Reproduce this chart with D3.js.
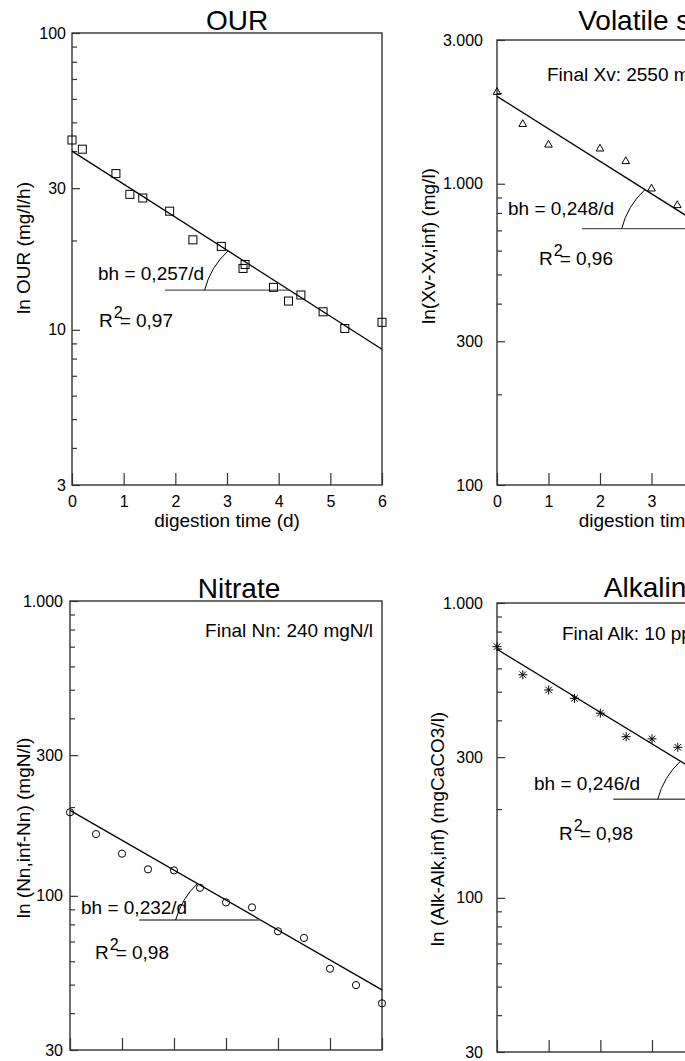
<!DOCTYPE html>
<html><head><meta charset="utf-8">
<script src="https://cdn.jsdelivr.net/npm/d3@7"></script>
<style>
body{margin:0;background:#fff;overflow:hidden}
svg{display:block}
text{font-family:"Liberation Sans",Arial,Helvetica,sans-serif;fill:#000}
</style>
</head><body>
<svg id="chart" width="685" height="1061"></svg>
<script>
// ---------------- data ----------------
const xTickValues = [0, 1, 2, 3, 4, 5, 6];

const ourDays   = [0, 0.2, 0.85, 1.12, 1.37, 1.89, 2.34, 2.89, 3.31, 3.35, 3.9, 4.19, 4.43, 4.86, 5.28, 6];
const ourValues = [43.6, 40.6, 33.6, 28.6, 27.8, 25.1, 20.1, 19.1, 16.1, 16.6, 13.9, 12.5, 13.1, 11.5, 10.1, 10.6];
const ourFit    = [[0, 40], [6, 8.6]];
const ourYTicks = [3, 10, 30, 100];
const ourYTickLabels = ["3", "10", "30", "100"];

const vsDays   = [0, 0.5, 1, 2, 2.5, 3, 3.5];
const vsValues = [2020, 1580, 1350, 1310, 1190, 965, 850];
const vsFit    = [[0, 1950], [6, 440]];
const vsYTicks = [100, 300, 1000, 3000];
const vsYTickLabels = ["100", "300", "1.000", "3.000"];

const nnDays   = [0, 0.5, 1, 1.5, 2, 2.5, 3, 3.5, 4, 4.5, 5, 5.5, 6];
const nnValues = [192, 162, 139, 123, 122, 106.5, 95, 91.4, 75.8, 72, 56.6, 49.8, 43.2];
const nnFit    = [[0, 195], [6, 48]];
const nnYTicks = [30, 100, 300, 1000];
const nnYTickLabels = ["30", "100", "300", "1.000"];

const alkDays   = [0, 0.5, 1, 1.5, 2, 2.5, 3, 3.5];
const alkValues = [711, 571, 507, 475, 423, 352, 346, 324];
const alkFit    = [[0, 697], [6, 159]];
const alkYTicks = [30, 100, 300, 1000];
const alkYTickLabels = ["30", "100", "300", "1.000"];

const titles = ["OUR", "Volatile solids", "Nitrate", "Alkalinity"];
const yTitles = ["ln OUR (mg/l/h)", "ln(Xv-Xv,inf) (mg/l)", "ln (Nn,inf-Nn) (mgN/l)", "ln (Alk-Alk,inf) (mgCaCO3/l)"];
const slopeTexts = ["bh = 0,257/d", "bh = 0,248/d", "bh = 0,232/d", "bh = 0,246/d"];
const r2Texts = ["= 0,97", "= 0,96", "= 0,98", "= 0,98"];
const finalTexts = [null, "Final Xv: 2550 mg/l", "Final Nn: 240 mgN/l", "Final Alk: 10 ppm"];
const angleLevels = [13.6, 710, 82.8, 216];     // value of horizontal reference line
const angleStarts = [1.8, 1.65, 1.33, 2.25];    // day where horizontal line starts

// ---------------- layout ----------------
const panels = [
  {i:0, days:ourDays, vals:ourValues, fit:ourFit, yt:ourYTicks, ytl:ourYTickLabels, dom:[3,100],
   x0:72, x1:382, yT:33, yB:485, marker:"square", tickPad:6, xLabels:true,
   titleX:237, titleY:30, yTitleX:23, yTitleY:248,
   slope:[98, 280], r2:[99, 327], fin:null},
  {i:1, days:vsDays, vals:vsValues, fit:vsFit, yt:vsYTicks, ytl:vsYTickLabels, dom:[100,3000],
   x0:497, x1:806, yT:40, yB:485, marker:"triangle", tickPad:14, xLabels:true,
   titleX:663, titleY:30, yTitleX:428, yTitleY:246,
   slope:[508, 215], r2:[539, 265], fin:[547, 81, "start"]},
  {i:2, days:nnDays, vals:nnValues, fit:nnFit, yt:nnYTicks, ytl:nnYTickLabels, dom:[30,1000],
   x0:70, x1:382, yT:601, yB:1050, marker:"circle", tickPad:7, xLabels:false,
   titleX:239, titleY:598, yTitleX:23, yTitleY:828,
   slope:[81, 914], r2:[95, 959], fin:[373, 637, "end"]},
  {i:3, days:alkDays, vals:alkValues, fit:alkFit, yt:alkYTicks, ytl:alkYTickLabels, dom:[30,1000],
   x0:497, x1:807, yT:603, yB:1052, marker:"asterisk", tickPad:14, xLabels:false,
   titleX:659, titleY:597, yTitleX:437, yTitleY:829,
   slope:[534, 790], r2:[559, 840], fin:[562, 640, "start"]}
];

const svg = d3.select("#chart");
const axisColor = "#333";
const W = 685;

function minorTicks(dom, majors) {
  const out = [];
  const lo = Math.floor(Math.log10(dom[0])), hi = Math.ceil(Math.log10(dom[1]));
  for (let e = lo; e <= hi; e++) {
    for (let m = 1; m <= 9; m++) {
      const v = m * Math.pow(10, e);
      if (v >= dom[0] * 0.999 && v <= dom[1] * 1.001 && !majors.some(t => Math.abs(t - v) < 1e-9 * v)) out.push(v);
    }
  }
  return out;
}

panels.forEach(p => {
  const g = svg.append("g");
  const x = d3.scaleLinear().domain([0, 6]).range([p.x0, p.x1]);
  const y = d3.scaleLog().domain(p.dom).range([p.yB, p.yT]);

  // y minor ticks
  const minorAxis = d3.axisLeft(y).tickValues(minorTicks(p.dom, p.yt)).tickSize(-5).tickFormat("");
  const gm = g.append("g").attr("transform", `translate(${p.x0},0)`).call(minorAxis);
  gm.select(".domain").remove();
  gm.selectAll("line").attr("stroke", axisColor).attr("stroke-width", 1.2);

  // y major ticks + labels
  const majorAxis = d3.axisLeft(y).tickValues(p.yt).tickSize(-8).tickPadding(p.tickPad)
    .tickFormat((d, k) => p.ytl[k]);
  const gy = g.append("g").attr("transform", `translate(${p.x0},0)`).call(majorAxis);
  gy.select(".domain").remove();
  gy.selectAll("line").attr("stroke", axisColor).attr("stroke-width", 1.2);
  gy.selectAll("text").attr("font-size", 16).attr("fill", "#000");
  gy.attr("font-family", null).attr("font-size", null);

  // x ticks (labels only where they fall inside the page, as in the cropped reference)
  const xAxis = d3.axisBottom(x).tickValues(xTickValues).tickSize(-12).tickPadding(8)
    .tickFormat(p.xLabels ? (d => (x(d) < W - 4 ? d3.format("d")(d) : "")) : "");
  const gx = g.append("g").attr("transform", `translate(0,${p.yB})`).call(xAxis);
  gx.select(".domain").remove();
  gx.selectAll("line").attr("stroke", axisColor).attr("stroke-width", 1.2);
  gx.selectAll("text").attr("font-size", 16).attr("fill", "#000").attr("dy", "0.9em");
  gx.attr("font-family", null).attr("font-size", null);

  // frame
  g.append("rect").attr("x", p.x0).attr("y", p.yT)
    .attr("width", p.x1 - p.x0).attr("height", p.yB - p.yT)
    .attr("fill", "none").attr("stroke", axisColor).attr("stroke-width", 1.4);

  // titles
  g.append("text").attr("x", p.titleX).attr("y", p.titleY).attr("text-anchor", "middle")
    .attr("font-size", 28).text(titles[p.i]);
  if (p.xLabels) {
    g.append("text").attr("x", (p.x0 + p.x1) / 2).attr("y", p.yB + 42).attr("text-anchor", "middle")
      .attr("font-size", 19).text("digestion time (d)");
  }
  g.append("text").attr("transform", `translate(${p.yTitleX},${p.yTitleY}) rotate(-90)`)
    .attr("text-anchor", "middle").attr("dy", "0.35em").attr("font-size", 19).text(yTitles[p.i]);

  // fit line
  const line = d3.line().x(d => x(d[0])).y(d => y(d[1]));
  g.append("path").attr("d", line(p.fit)).attr("fill", "none").attr("stroke", "#000").attr("stroke-width", 1.3);

  // angle annotation
  const lv = angleLevels[p.i];
  const [f0, f1] = p.fit;
  const dInt = f0[0] + (Math.log(lv) - Math.log(f0[1])) / (Math.log(f1[1]) - Math.log(f0[1])) * (f1[0] - f0[0]);
  const cx = x(dInt), cy = y(lv);
  g.append("line").attr("x1", x(angleStarts[p.i])).attr("x2", cx).attr("y1", cy).attr("y2", cy)
    .attr("stroke", "#555").attr("stroke-width", 1.3);
  const ux = x(f0[0]) - cx, uy = y(f0[1]) - cy, ul = Math.hypot(ux, uy);
  const sx = cx - 85, sy = cy, ex = cx + ux / ul * 73, ey = cy + uy / ul * 73;
  g.append("path").attr("d", `M${sx},${sy} A80,80 0 0 1 ${ex},${ey}`)
    .attr("fill", "none").attr("stroke", "#000").attr("stroke-width", 1);

  // annotation texts
  g.append("text").attr("x", p.slope[0]).attr("y", p.slope[1]).attr("font-size", 19).text(slopeTexts[p.i]);
  const rt = g.append("text").attr("x", p.r2[0]).attr("y", p.r2[1]).attr("font-size", 19);
  rt.append("tspan").text("R");
  rt.append("tspan").attr("dy", -9).attr("dx", 1).attr("font-size", 16).text("2");
  rt.append("tspan").attr("dy", 9).attr("dx", -3).text(r2Texts[p.i]);
  if (p.fin) {
    g.append("text").attr("x", p.fin[0]).attr("y", p.fin[1]).attr("text-anchor", p.fin[2])
      .attr("font-size", 19).text(finalTexts[p.i]);
  }

  // markers
  const pts = p.days.map((d, k) => [d, p.vals[k]]);
  const mg = g.append("g").attr("fill", "none").attr("stroke", "#000").attr("stroke-width", 1);
  const sel = mg.selectAll("g.pt").data(pts).join("g").attr("class", "pt")
    .attr("transform", d => `translate(${x(d[0])},${y(d[1])})`);
  if (p.marker === "square") {
    sel.append("rect").attr("x", -4).attr("y", -4).attr("width", 8).attr("height", 8);
  } else if (p.marker === "triangle") {
    sel.append("path").attr("d", "M0,-4.2L3.8,2.6L-3.8,2.6Z");
  } else if (p.marker === "circle") {
    sel.append("circle").attr("r", 3.6);
  } else {
    sel.append("path").attr("d", "M-4.5,0H4.5M0,-4.5V4.5M-3.3,-3.3L3.3,3.3M-3.3,3.3L3.3,-3.3");
  }
});
</script>
</body></html>
